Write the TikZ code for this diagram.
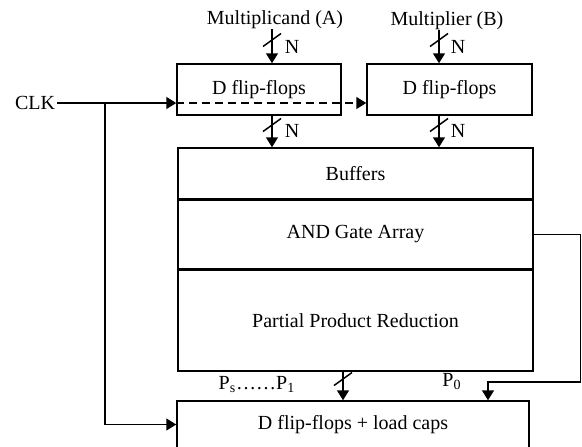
\documentclass[tikz,border=0pt]{standalone}
\usepackage{fontspec}
\setmainfont{Liberation Serif}
\usetikzlibrary{arrows.meta, positioning, calc}
\tikzset{
	block/.style={
		draw,
		rectangle,
		inner sep=0pt,
		line width=0.75pt
	},
	wire/.style={
		line width=0.75pt,
		-{Triangle[length=5pt,width=6pt]}
	},
	busmark/.style={
		line width=0.75pt
	},
	lbl/.style={
		inner sep=0pt
	}
}

\begin{document}
\begin{tikzpicture}[x=0.5pt, y=-0.5pt, font=\fontsize{10}{12}\selectfont]
	\useasboundingbox (0,0) rectangle (582,446);

	% operand registers
	\node[block, minimum width=82pt, minimum height=25.5pt] (ffa) at (259,89.5) {D flip-flops};
	\node[block, minimum width=82.5pt, minimum height=25.5pt] (ffb) at (449.5,89.5) {D flip-flops};

	% multiplier core, three stacked rows
	\node[block, minimum width=177.5pt, minimum height=25.5pt] (buf) at (355.5,173.5) {Buffers};
	\node[block, minimum width=177.5pt, minimum height=34pt, below=0pt of buf] (andg) {AND Gate Array};
	\node[block, minimum width=177.5pt, minimum height=50.5pt, below=0pt of andg] (ppr) {Partial Product Reduction};

	% output register (runs off the bottom)
	\node[block, minimum width=176pt, minimum height=23.5pt] (outreg) at (353,424.5) {D flip-flops + load caps};

	% inputs and labels
	\node[lbl] (mcand) at (275,20) {Multiplicand (A)};
	\node[lbl] (mplier) at (447,21) {Multiplier (B)};
	\node[inner sep=1pt] (clk) at (35,103) {CLK};
	\node[lbl] (plbl) at (257,385) {P\textsubscript{s}\ldots\ldots P\textsubscript{1}};
	\node[lbl] (p0lbl) at (452,382) {P\textsubscript{0}};

	\coordinate (busA) at (272,0);
	\coordinate (busB) at (439,0);
	\coordinate (busP) at (343,0);
	\coordinate (p0in) at (488,0);
	\coordinate (tap) at (105,0);
	\coordinate (fbr) at (580.5,382);

	% data buses
	\begin{scope}[wire]
	\draw (mcand.south -| busA) -- (ffa.north -| busA);
	\draw (mplier.south -| busB) -- (ffb.north -| busB);
	\draw (ffa.south -| busA) -- (buf.north -| busA);
	\draw (ffb.south -| busB) -- (buf.north -| busB);
	\draw (ppr.south -| busP) -- (outreg.north -| busP);
	\draw (andg.east) -| (fbr) -| (outreg.north -| p0in);
	\end{scope}

	% bus width marks
	\foreach \x/\y in {272/40, 439/40, 272/125, 439/125, 343/379} {
		\draw[busmark] (\x-9,\y+6.5) -- (\x+9,\y-6.5);
	}
	\foreach \x/\y [count=\i] in {292/47, 458/47, 292/131, 458/131} {
		\node[lbl] (nlab\i) at (\x,\y) {N};
	}

	% clock
	\draw[wire] (clk.east) -- (ffa.west |- clk.east);
	\draw[wire, dash pattern=on 4pt off 2.5pt] (ffa.west |- clk.east) -- (ffb.west |- clk.east);
	\draw[wire] (tap |- clk.east) |- (outreg.west);
\end{tikzpicture}
\end{document}
